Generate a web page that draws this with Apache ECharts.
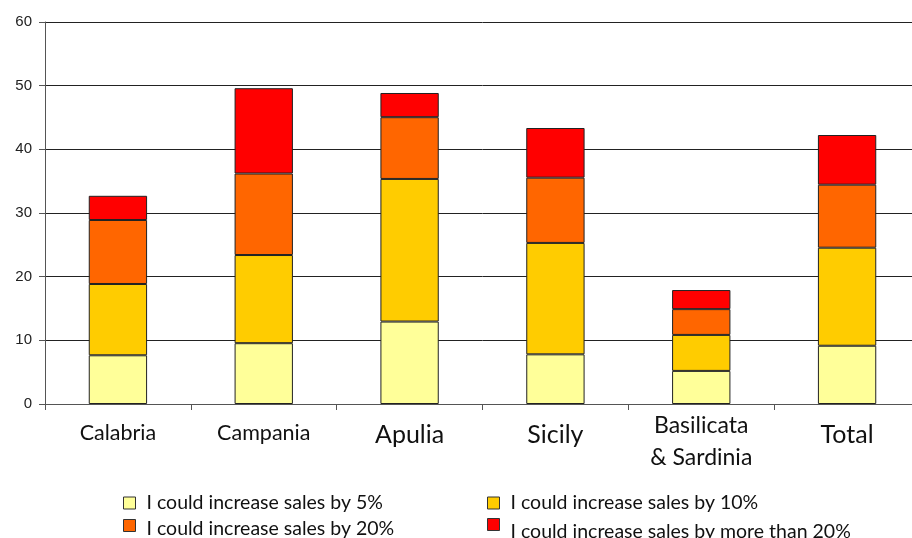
<!DOCTYPE html>
<html>
<head>
<meta charset="utf-8">
<script src="https://cdn.jsdelivr.net/npm/echarts@6/dist/echarts.min.js"></script>
<style>
  html, body { margin: 0; padding: 0; background: #fff; overflow: hidden; }
  /* the plot runs a little past the right edge of the window */
  #chart { width: 920px; height: 538px; }
</style>
</head>
<body>
<div id="chart"></div>
<script>
// Regions along the x axis
const categories = ['Calabria', 'Campania', 'Apulia', 'Sicily', 'Basilicata\n& Sardinia', 'Total'];
// Label size style for each region name
const labelStyles = ['s', 's', 'l', 'l', 'm', 'l'];

// Share of respondents (%) for each answer, stacked per region
const up5 = [7.65, 9.55, 12.95, 7.8, 5.2, 9.15];
const up10 = [11.2, 13.85, 22.4, 17.5, 5.65, 15.4];
const up20 = [10.05, 12.8, 9.7, 10.25, 4.05, 9.9];
const over20 = [3.8, 13.4, 3.8, 7.8, 3.0, 7.8];

const seriesNames = [
  'I could increase sales by 5%',
  'I could increase sales by 10%',
  'I could increase sales by 20%',
  'I could increase sales by more than 20%'
];
const seriesData = [up5, up10, up20, over20];
const colors = ['#FFFF99', '#FFCC00', '#FF6600', '#FF0000'];

// Y axis range and step
const yMin = 0, yMax = 60, yStep = 10;

const textFont = 'Lato, "Open Sans", sans-serif';

const chart = echarts.init(document.getElementById('chart'), null, { renderer: 'canvas' });

// Legend block positions (two columns, two rows) and extra drop of each text
const legendPos = [
  { left: 123, top: 493, drop: 0 },
  { left: 487, top: 493, drop: 0 },
  { left: 123, top: 519, drop: 7 },
  { left: 487, top: 518, drop: 15 }
];

const option = {
  animation: false,
  backgroundColor: '#ffffff',
  grid: { left: 45, right: 0, top: 22, bottom: 134, containLabel: false },
  legend: seriesNames.map((name, i) => ({
    data: [name],
    left: legendPos[i].left,
    top: legendPos[i].top,
    padding: 0,
    itemWidth: 12,
    itemHeight: 12,
    icon: 'rect',
    formatter: n => '{t|' + n + '}',
    textStyle: {
      fontFamily: textFont,
      fontSize: 19.5,
      color: '#111',
      rich: {
        t: {
          fontFamily: textFont,
          fontSize: 19.5,
          color: '#111',
          padding: [legendPos[i].drop, 0, 0, 6]
        }
      }
    },
    itemStyle: { borderColor: '#333', borderWidth: 1 }
  })),
  xAxis: {
    type: 'category',
    data: categories,
    boundaryGap: true,
    axisLine: { lineStyle: { color: '#555', width: 1 } },
    axisTick: { show: true, length: 6, lineStyle: { color: '#555' } },
    axisLabel: {
      interval: 0,
      margin: 6,
      fontFamily: textFont,
      color: '#111',
      formatter: (v, idx) => {
        const st = labelStyles[idx];
        return v.split('\n').map(line => '{' + st + '|' + line + '}').join('\n');
      },
      rich: {
        s: { fontSize: 21.5, fontFamily: textFont, color: '#111', lineHeight: 46 },
        m: { fontSize: 23, fontFamily: textFont, color: '#111', lineHeight: 32 },
        l: { fontSize: 25, fontFamily: textFont, color: '#111', lineHeight: 50 }
      }
    }
  },
  yAxis: {
    type: 'value',
    min: yMin,
    max: yMax,
    interval: yStep,
    axisLine: { show: true, lineStyle: { color: '#555', width: 1 } },
    axisTick: { show: true, length: 6, lineStyle: { color: '#555' } },
    axisLabel: {
      margin: 13,
      fontFamily: '"Liberation Sans", Arial, sans-serif',
      fontSize: 15,
      color: '#222'
    },
    splitLine: { show: true, lineStyle: { color: '#222', width: 1 } }
  },
  series: seriesNames.map((name, i) => ({
    name,
    type: 'bar',
    stack: 'total',
    data: seriesData[i],
    barWidth: '40%',
    itemStyle: { color: colors[i], borderColor: '#222', borderWidth: 1 },
    emphasis: { disabled: true }
  }))
};

chart.setOption(option);
</script>
</body>
</html>
